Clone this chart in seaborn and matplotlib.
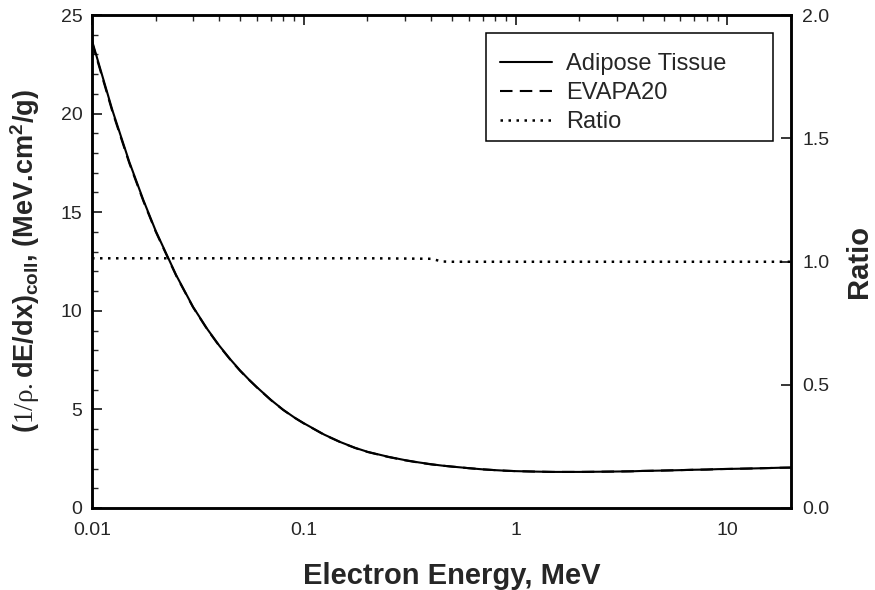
import matplotlib
matplotlib.use("Agg")
import matplotlib.pyplot as plt
import matplotlib.ticker as mticker
from matplotlib.patches import Rectangle
import seaborn as sns
import pandas as pd
import numpy as np

# Electron energy (MeV)
energy = [0.01, 0.0125, 0.015, 0.0175, 0.02, 0.025, 0.03, 0.035, 0.04, 0.045, 0.05,
          0.055, 0.06, 0.07, 0.08, 0.09, 0.1, 0.125, 0.15, 0.175, 0.2, 0.25, 0.3,
          0.35, 0.4, 0.45, 0.5, 0.55, 0.6, 0.7, 0.8, 0.9, 1.0, 1.25, 1.5, 1.75, 2.0,
          2.5, 3.0, 3.5, 4.0, 4.5, 5.0, 5.5, 6.0, 7.0, 8.0, 9.0, 10.0, 12.5, 15.0,
          17.5, 20.0]
# Collision stopping power, adipose tissue (MeV cm2/g)
adipose = [23.70, 20.15, 17.55, 15.60, 14.05, 11.80, 10.20, 9.08, 8.22, 7.54, 6.98,
           6.52, 6.13, 5.48, 4.98, 4.60, 4.30, 3.72, 3.33, 3.05, 2.85, 2.60, 2.43,
           2.31, 2.22, 2.15, 2.10, 2.06, 2.02, 1.96, 1.92, 1.89, 1.87, 1.845, 1.83,
           1.83, 1.83, 1.84, 1.85, 1.86, 1.88, 1.89, 1.90, 1.91, 1.92, 1.94, 1.95,
           1.97, 1.98, 2.00, 2.02, 2.04, 2.05]
# EVAPA20 (nearly identical)
evapa20 = [23.62, 20.08, 17.49, 15.55, 14.01, 11.77, 10.18, 9.06, 8.20, 7.52, 6.96,
           6.51, 6.12, 5.47, 4.97, 4.59, 4.29, 3.71, 3.32, 3.04, 2.84, 2.59, 2.42,
           2.30, 2.21, 2.15, 2.10, 2.06, 2.02, 1.96, 1.92, 1.89, 1.87, 1.845, 1.83,
           1.83, 1.83, 1.84, 1.85, 1.86, 1.88, 1.89, 1.90, 1.91, 1.92, 1.94, 1.95,
           1.97, 1.98, 2.00, 2.02, 2.04, 2.05]
ratio_energy = [0.01, 0.02, 0.05, 0.1, 0.2, 0.3, 0.4, 0.45, 0.5, 1.0, 2.0, 5.0, 10.0, 20.0]
ratio = [1.013, 1.013, 1.013, 1.013, 1.013, 1.012, 1.011, 1.000, 0.999, 0.999,
         0.999, 0.999, 0.999, 0.999]

sns.set_style("white")
plt.rcParams['font.family'] = ['Liberation Sans', 'DejaVu Sans']
plt.rcParams['mathtext.fontset'] = 'custom'
plt.rcParams['mathtext.rm'] = 'Liberation Serif'
plt.rcParams['mathtext.bf'] = 'Liberation Sans:bold'
plt.rcParams['mathtext.it'] = 'Liberation Sans:bold'

fig = plt.figure(figsize=(8.75, 5.9), dpi=100)
ax = fig.add_axes([92/875, 1-508/590, (791-92)/875, (508-15)/590])
ax2 = ax.twinx()

df1 = pd.DataFrame({"E": energy, "S": adipose})
df2 = pd.DataFrame({"E": energy, "S": evapa20})
df3 = pd.DataFrame({"E": ratio_energy, "R": ratio})

sns.lineplot(data=df1, x="E", y="S", ax=ax, color="black", lw=1.5, label="Adipose Tissue", legend=False)
sns.lineplot(data=df2, x="E", y="S", ax=ax, color="black", lw=1.5, linestyle=(0, (6, 3.5)), label="EVAPA20", legend=False)
sns.lineplot(data=df3, x="E", y="R", ax=ax2, color="black", lw=1.8, linestyle=(0, (1, 2.2)), label="Ratio", legend=False)

ax.set_xscale("log")
ax.set_xlim(0.01, 20)
ax.set_ylim(0, 25)
ax2.set_ylim(0, 2.0)

ax.xaxis.set_major_locator(mticker.LogLocator(base=10))
ax.xaxis.set_minor_locator(mticker.LogLocator(base=10, subs=np.arange(2, 10)))
ax.xaxis.set_minor_formatter(mticker.NullFormatter())
ax.xaxis.set_major_formatter(mticker.FuncFormatter(lambda v, p: f"{v:g}"))
ax.yaxis.set_major_locator(mticker.MultipleLocator(5))
ax.yaxis.set_minor_locator(mticker.MultipleLocator(1))
ax2.yaxis.set_major_locator(mticker.MultipleLocator(0.5))
ax2.yaxis.set_major_formatter(mticker.FormatStrFormatter("%.1f"))

ax.tick_params(axis='both', which='major', direction='in', length=7, width=1.3, labelsize=14, top=True, right=False, pad=7)
ax.tick_params(axis='x', which='major', pad=10)
ax.tick_params(axis='both', which='minor', direction='in', length=4, width=1.0, top=True, right=False)
ax2.tick_params(axis='y', which='major', direction='in', length=7, width=1.3, labelsize=14, pad=8)
ax2.tick_params(axis='y', which='minor', length=0)

for a in (ax, ax2):
    for s in a.spines.values():
        s.set_linewidth(1.8)
        s.set_color("black")

ax.set_xlabel("Electron Energy, MeV", fontsize=21, fontweight='bold', labelpad=13)
ax.xaxis.set_label_coords(0.515, -0.11)
ax.xaxis.label.set_va("top")
ax.set_ylabel(r"($\mathrm{1/\rho.}$dE/dx)$_{\mathbf{coll}}$, (MeV.cm$^{\mathbf{2}}$/g)",
              fontsize=19.5, fontweight='bold')
ax.yaxis.set_label_coords(-0.072, 0.5)
ax2.set_ylabel("Ratio", fontsize=21, fontweight='bold', labelpad=11)

# legend frame
fig.patches.append(Rectangle((486/875, 1-141/590), (773-486)/875, (141-33)/590,
                             transform=fig.transFigure, fill=False, edgecolor="black",
                             lw=1.1, zorder=5))
h1, l1 = ax.get_legend_handles_labels()
h2, l2 = ax2.get_legend_handles_labels()
leg = ax2.legend(h1 + h2, l1 + l2, loc="upper left", fontsize=17, frameon=False,
                 handlelength=2.2, borderpad=0, labelspacing=0.3, handletextpad=0.6,
                 borderaxespad=0)
leg.set_bbox_to_anchor((500/875, 1 - 53/590), transform=fig.transFigure)

fig.savefig("out.png", dpi=100)
